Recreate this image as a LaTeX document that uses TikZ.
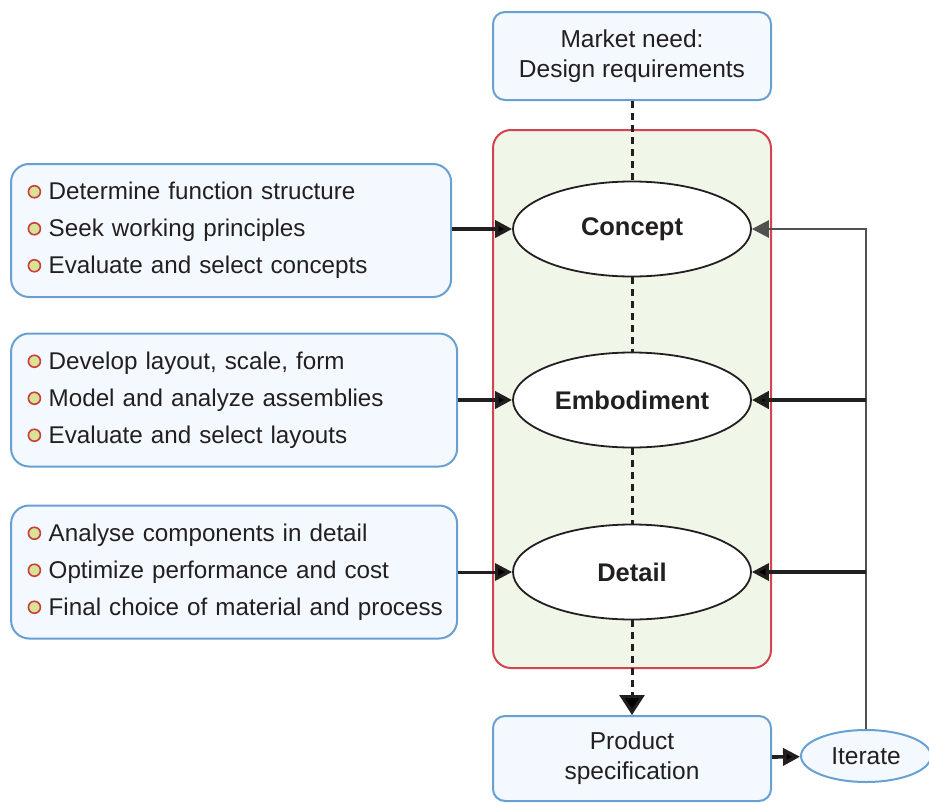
\documentclass[tikz,border=0pt]{standalone}
\usepackage{fontspec}
\setmainfont{Liberation Sans}
\usetikzlibrary{arrows.meta,positioning,shapes.geometric}

\definecolor{boxblue}{RGB}{104,160,212}
\definecolor{boxfill}{RGB}{243,249,254}
\definecolor{stagered}{RGB}{210,68,80}
\definecolor{stagefill}{RGB}{240,246,232}
\definecolor{ink}{RGB}{35,31,32}
\definecolor{bulred}{RGB}{200,62,62}
\definecolor{bulfill}{RGB}{218,226,150}
\definecolor{fbgray}{RGB}{80,80,80}

% one task line, with its small round bullet
\newcommand{\task}[1]{\mbox{\tikz[baseline=-8pt]\draw[bulred,fill=bulfill,line width=1.6pt] (0pt,0pt) circle (6pt);\hspace{7.5pt}#1}}

\begin{document}
\begin{tikzpicture}[
      x=1pt, y=1pt,
      text=ink,
      infobox/.style={draw=boxblue, fill=boxfill, line width=2pt, rounded corners=12pt,
        align=center, minimum width=278pt, font=\fontsize{24.5}{30}\selectfont},
      listbox/.style={draw=boxblue, fill=boxfill, line width=2pt, rounded corners=18pt,
        align=left, inner xsep=16.5pt, minimum height=133pt, font=\fontsize{24.2}{37}\selectfont},
      stagebox/.style={draw=stagered, fill=stagefill, line width=2pt, rounded corners=18pt,
        minimum width=278pt, minimum height=538pt},
      phase/.style={ellipse, draw=ink, fill=white, line width=1.8pt, minimum width=238pt,
        minimum height=95pt, font=\fontsize{25.5}{30}\selectfont\bfseries},
      iterbox/.style={ellipse, draw=boxblue, fill=boxfill, line width=2pt, minimum width=130pt,
        minimum height=52pt, inner sep=0pt, font=\fontsize{24.5}{30}\selectfont},
      flow/.style={dash pattern=on 7pt off 5pt, line width=3pt, draw=ink},
      feed/.style={draw=ink, line width=3.6pt, -{Triangle[length=17pt,width=17pt]}}
    ]
    \useasboundingbox (0,0) rectangle (929,-803);

    % stages
    \node[infobox, minimum height=88pt] (need) at (632,-56) {Market need:\\Design requirements};
    \node[stagebox] (stage) at (632,-399) {};
    \node[phase] (concept) at (632,-229) {Concept};
    \node[phase] (embod) at (632,-400) {Embodiment};
    \node[phase] (detail) at (632,-572) {Detail};
    \node[infobox, minimum height=85pt] (spec) at (632,-758.5) {Product\\specification};
    \node[iterbox] (iter) at (866,-756) {Iterate};

    % task lists
    \node[listbox, text width=407pt, left=60pt of concept, yshift=-1.5pt] (tasks1)
      {\task{Determine function structure}\\\task{Seek working principles}\\\task{Evaluate and select concepts}};
    \node[listbox, text width=413pt, left=54pt of embod] (tasks2)
      {\task{Develop layout, scale, form}\\\task{Model and analyze assemblies}\\\task{Evaluate and select layouts}};
    \node[listbox, text width=413pt, left=54pt of detail] (tasks3)
      {\task{Analyse components in detail}\\\task{Optimize performance and cost}\\\task{Final choice of material and process}};

    % main flow
    \draw[flow] (need) -- (concept);
    \draw[flow] (concept) -- (embod);
    \draw[flow] (embod) -- (detail);
    \draw[flow, -{Triangle[length=20pt,width=25pt]}] (detail) -- (spec);

    \draw[feed] (tasks1.east |- concept) -- (concept);
    \draw[feed] (tasks2) -- (embod);
    \draw[feed, line width=3pt] (tasks3) -- (detail);

    % iteration loop
    \draw[feed] (spec) -- (iter);
    \draw[feed, draw=fbgray, line width=2.8pt] (iter.north) |- (concept.east);
    \draw[feed, line width=4.2pt] (iter.north |- embod.east) -- (embod.east);
    \draw[feed, line width=3.2pt] (iter.north |- detail.east) -- (detail.east);
\end{tikzpicture}
\end{document}
